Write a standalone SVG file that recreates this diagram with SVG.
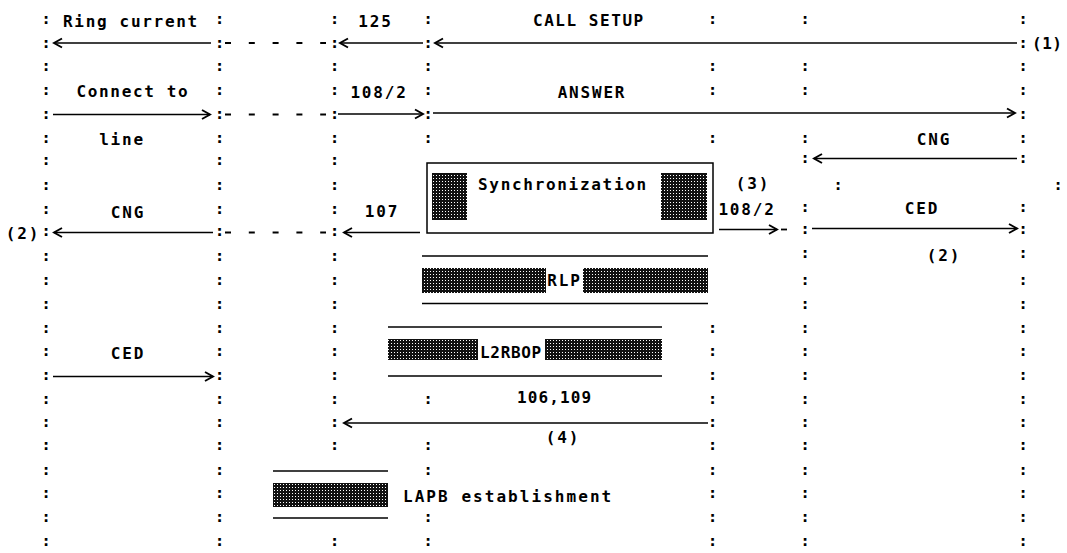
<svg xmlns="http://www.w3.org/2000/svg" width="1067" height="553" viewBox="0 0 1067 553">
<style>
text{font-family:"DejaVu Sans Mono","Liberation Mono",monospace;font-size:16px;font-weight:bold;fill:#000;letter-spacing:1.8px}
.m{text-anchor:middle}
.c{text-anchor:middle;letter-spacing:0;font-weight:bold}
.ln{stroke:#000;stroke-width:1.4;fill:none}
.ar{stroke:#000;stroke-width:1.4;fill:none;marker-end:url(#ah)}
.dash{stroke:#000;stroke-width:1.8;fill:none;stroke-dasharray:6 17.8}
.sh{fill:url(#dither)}
.bx{fill:none;stroke:#000;stroke-width:1.5}
</style>
<defs>
<marker id="ah" viewBox="-10 -6 12 12" markerWidth="12" markerHeight="12" refX="0" refY="0" orient="auto" markerUnits="userSpaceOnUse">
<path d="M-8,-4.5 L0,0 L-8,4.5" fill="none" stroke="#000" stroke-width="1.9"/>
</marker>
<pattern id="dither" patternUnits="userSpaceOnUse" width="3" height="3">
<rect width="3" height="3" fill="#111"/>
<rect x="1" y="1" width="1" height="1" fill="#fff"/>
</pattern>
</defs>
<rect width="1067" height="553" fill="#fff"/>

<g id="lifelines">
<g id="lifeline-a"><text class="c" x="46 46 46 46 46 46 46 46 46 46 46 46 46 46 46 46 46 46 46 46 46 46 46" y="24.4 47.6 70.9 94.9 118.9 143.4 165.4 190.4 214.4 236.4 261.4 285.4 309.4 332.9 356.4 380.1 404.4 426.9 450.4 474.9 498.4 521.6 546.1">:::::::::::::::::::::::</text></g>
<g id="lifeline-b"><text class="c" x="219.5 219.5 219.5 219.5 219.5 219.5 219.5 219.5 219.5 219.5 219.5 219.5 219.5 219.5 219.5 219.5 219.5 219.5 219.5 219.5 219.5 219.5 219.5" y="24.4 47.6 70.9 94.9 118.9 143.4 165.4 190.4 214.4 236.4 261.4 285.4 309.4 332.9 356.4 380.1 404.4 426.9 450.4 474.9 498.4 521.6 546.1">:::::::::::::::::::::::</text></g>
<g id="lifeline-c"><text class="c" x="334.5 334.5 334.5 334.5 334.5 334.5 334.5 334.5 334.5 334.5 334.5 334.5 334.5 334.5 334.5 334.5 334.5 334.5 334.5 334.5" y="24.4 47.6 70.9 94.9 118.9 143.4 165.4 190.4 214.4 236.4 261.4 285.4 309.4 332.9 356.4 380.1 404.4 426.9 450.4 546.1">::::::::::::::::::::</text></g>
<g id="lifeline-d"><text class="c" x="428 428 428 428 428 428 428 428 428 428 428" y="24.4 47.6 70.9 94.9 118.9 143.4 404.4 450.4 474.9 521.6 546.1">:::::::::::</text></g>
<g id="lifeline-e"><text class="c" x="712.5 712.5 712.5 712.5 712.5 712.5 712.5 712.5 712.5 712.5 712.5 712.5 712.5 712.5" y="24.4 70.9 94.9 143.4 332.9 356.4 380.1 404.4 426.9 450.4 474.9 498.4 521.6 546.1">::::::::::::::</text></g>
<g id="lifeline-f"><text class="c" x="805 805 805 805 805 805 805 805 805 805 805 805 805 805 805 805 805 805 805 805" y="24.4 70.9 94.9 143.4 162.5 212 233.5 258 285.4 309.4 332.9 356.4 380.1 404.4 426.9 450.4 474.9 498.4 521.6 546.1">::::::::::::::::::::</text></g>
<g id="lifeline-g"><text class="c" x="1023 1023 1023 1023 1023 1023 1023 1023 1023 1023 1023 1023 1023 1023 1023 1023 1023 1023 1023 1023 1023 1023" y="24.4 47.6 70.9 94.9 118.9 143.4 162.5 212 233.5 258 285.4 309.4 332.9 356.4 380.1 404.4 426.9 450.4 474.9 498.4 521.6 546.1">::::::::::::::::::::::</text></g>
<g id="stray-colons"><text class="c" x="838" y="190.4">:</text><text class="c" x="1058" y="190.4">:</text></g>
</g>

<g id="connectors">
<line class="ar" x1="211" y1="43" x2="54" y2="43"/>
<line class="dash" x1="225" y1="43" x2="326" y2="43"/>
<line class="ar" x1="423" y1="43" x2="340" y2="43"/>
<line class="ar" x1="1017" y1="43" x2="435" y2="43"/>
<line class="ar" x1="53" y1="114.5" x2="210" y2="114.5"/>
<line class="dash" x1="225" y1="114.5" x2="326" y2="114.5"/>
<line class="ar" x1="338" y1="114" x2="423" y2="114"/>
<line class="ar" x1="433" y1="113" x2="1015" y2="113"/>
<line class="ar" x1="1017" y1="158.5" x2="814" y2="158.5"/>
<line class="ar" x1="213" y1="232.5" x2="54" y2="232.5"/>
<line class="dash" x1="225" y1="232.5" x2="326" y2="232.5"/>
<line class="ar" x1="420" y1="232.5" x2="344" y2="232.5"/>
<line class="ar" x1="719" y1="229.5" x2="777" y2="229.5"/>
<line class="dash" x1="781" y1="229.5" x2="787" y2="229.5"/>
<line class="ar" x1="812" y1="228.5" x2="1017" y2="228.5"/>
<line class="ar" x1="53" y1="376.5" x2="213" y2="376.5"/>
<line class="ar" x1="708" y1="423" x2="344" y2="423"/>
</g>

<g id="label-ring-current"><text class="m" x="131" y="26.5" textLength="136">Ring current</text></g>
<g id="label-125"><text class="m" x="375.5" y="26.5">125</text></g>
<g id="label-call-setup"><text class="m" x="589" y="25.5" textLength="112">CALL SETUP</text></g>
<g id="label-1"><text x="1032" y="49" style="letter-spacing:0.5px">(1)</text></g>
<g id="label-connect-to"><text class="m" x="133" y="96.5" textLength="113">Connect to</text></g>
<g id="label-108-2-a"><text class="m" x="379" y="97.5">108/2</text></g>
<g id="label-answer"><text class="m" x="592" y="97.5">ANSWER</text></g>
<g id="label-line"><text class="m" x="122" y="144.5">line</text></g>
<g id="label-cng-right"><text class="m" x="934" y="144.5">CNG</text></g>

<g id="synchronization">
<rect class="bx" x="427" y="163" width="286" height="70"/>
<rect class="sh" x="432" y="173" width="35" height="47"/>
<rect class="sh" x="661" y="173" width="46" height="47"/>
<text class="m" x="563" y="189.5" textLength="170">Synchronization</text>
</g>
<g id="label-3"><text class="m" x="753" y="189">(3)</text></g>
<g id="label-cng-left"><text class="m" x="128" y="218">CNG</text></g>
<g id="label-107"><text class="m" x="382" y="217">107</text></g>
<g id="label-108-2-b"><text class="m" x="747" y="214.5">108/2</text></g>
<g id="label-ced-right"><text class="m" x="922" y="213.5">CED</text></g>
<g id="label-2-left"><text class="m" x="23" y="239">(2)</text></g>
<g id="label-2-right"><text class="m" x="944" y="261">(2)</text></g>

<g id="rlp">
<line class="ln" x1="422" y1="256" x2="708" y2="256"/>
<rect class="sh" x="422" y="268" width="124" height="25"/>
<rect class="sh" x="583" y="268" width="125" height="25"/>
<text class="m" x="564.5" y="286">RLP</text>
<line class="ln" x1="422" y1="303.5" x2="708" y2="303.5"/>
</g>

<g id="l2rbop">
<line class="ln" x1="388" y1="327" x2="662" y2="327"/>
<rect class="sh" x="388" y="339" width="90" height="21"/>
<rect class="sh" x="545" y="339" width="117" height="21"/>
<text class="m" x="511.5" y="357.5" textLength="63">L2RBOP</text>
<line class="ln" x1="388" y1="376" x2="662" y2="376"/>
</g>
<g id="label-ced-left"><text class="m" x="128" y="359">CED</text></g>
<g id="label-106-109"><text class="m" x="555" y="402.5" textLength="76">106,109</text></g>
<g id="label-4"><text class="m" x="563" y="443">(4)</text></g>

<g id="lapb">
<line class="ln" x1="273" y1="471" x2="388" y2="471"/>
<rect class="sh" x="273" y="483" width="115" height="24"/>
<line class="ln" x1="273" y1="518" x2="388" y2="518"/>
<text x="403" y="502" textLength="210">LAPB establishment</text>
</g>
</svg>
